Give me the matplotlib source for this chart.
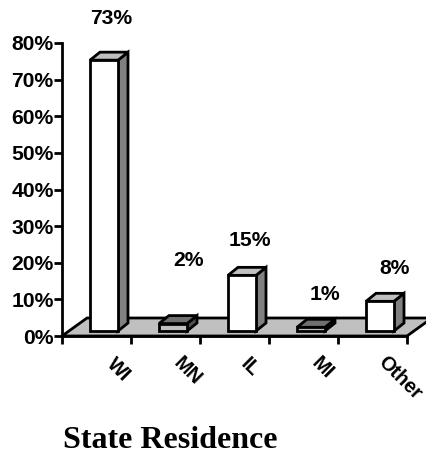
import matplotlib
matplotlib.use("Agg")
import matplotlib.pyplot as plt
from matplotlib.patches import Polygon

categories = ["WI", "MN", "IL", "MI", "Other"]
percent_values = [73, 2, 15, 1, 8]
y_ticks = [0, 10, 20, 30, 40, 50, 60, 70, 80]

W, H = 427, 455
plt.rcParams["font.family"] = ["Liberation Sans", "DejaVu Sans"]
fig = plt.figure(figsize=(W / 100, H / 100), dpi=100)

# Plot area: y axis at x=62, zero line at y=336, 80% at y=43, categories 69 px apart
x0, y0, ytop = 62, 336, 43
slot = 69
ax = fig.add_axes([x0 / W, 1 - y0 / H, 5 * slot / W, (y0 - ytop) / H])
ax.set_xlim(0, 5)
ax.set_ylim(0, 80)
ax.patch.set_visible(False)
px_x = 1 / slot
px_y = 80 / (y0 - ytop)

LW = 2.0
EDGE = "black"


def poly(points, color, z):
    ax.add_patch(Polygon(points, closed=True, facecolor=color, edgecolor=EDGE,
                         linewidth=LW, joinstyle="miter", clip_on=False, zorder=z))


# Floor of the 3D box
floor_dx, floor_dy = 25 * px_x, 18 * px_y
poly([(0, 0), (5, 0), (5 + floor_dx, floor_dy), (floor_dx, floor_dy)], "#c0c0c0", 1)

# Bars: front face, top face and side face
bar_half = 14 * px_x
bar_dx, bar_dy = 10 * px_x, 8 * px_y
base = 5 * px_y
shift = 7.5 * px_x
rise = 1.013  # bars stand slightly taller than the axis scale because of the perspective
for i, v in enumerate(percent_values):
    c = i + 0.5 + shift
    l, r = c - bar_half, c + bar_half
    t = base + v * rise
    if v >= 5:
        front, top, side = "white", "#c0c0c0", "#808080"
    else:
        front, top, side = "#c0c0c0", "#707070", "#505050"
    poly([(r, base), (r + bar_dx, base + bar_dy), (r + bar_dx, t + bar_dy), (r, t)], side, 3)
    poly([(l, t), (r, t), (r + bar_dx, t + bar_dy), (l + bar_dx, t + bar_dy)], top, 3)
    poly([(l, base), (r, base), (r, t), (l, t)], front, 3)

# Value labels float at their own heights above the bars
label_x = [111, 189, 250, 325, 395]
label_y = [18, 261, 241, 295, 269]
for lx, ly, v in zip(label_x, label_y, percent_values):
    fig.text(lx / W, 1 - ly / H, f"{v}%", ha="center", va="center",
             fontsize=15.2, fontweight="bold")

# Axes
for s in ("top", "right"):
    ax.spines[s].set_visible(False)
ax.spines["left"].set_linewidth(LW)
ax.spines["bottom"].set_linewidth(LW)
ax.spines["left"].set_zorder(5)
ax.spines["bottom"].set_zorder(2)
ax.set_yticks(y_ticks)
ax.set_yticklabels([f"{t}%" for t in y_ticks], fontsize=15.2, fontweight="bold")
ax.tick_params(axis="y", length=6, width=LW, pad=0)
ax.set_xticks(range(6))
ax.set_xticklabels([])
ax.tick_params(axis="x", length=6, width=LW)

# Slanted category labels
label_cx = [118, 187, 250, 322, 400]
label_cy = [370, 371, 367, 368, 378]
for cx, cy, name in zip(label_cx, label_cy, categories):
    fig.text(cx / W, 1 - cy / H, name, ha="center", va="center", rotation=-45,
             rotation_mode="anchor", fontsize=14.3, fontweight="bold")

fig.text(170.5 / W, 1 - 441 / H, "State Residence", ha="center", va="center",
         fontsize=23, fontweight="bold", family="Liberation Serif")

fig.savefig("out.png", dpi=100)
